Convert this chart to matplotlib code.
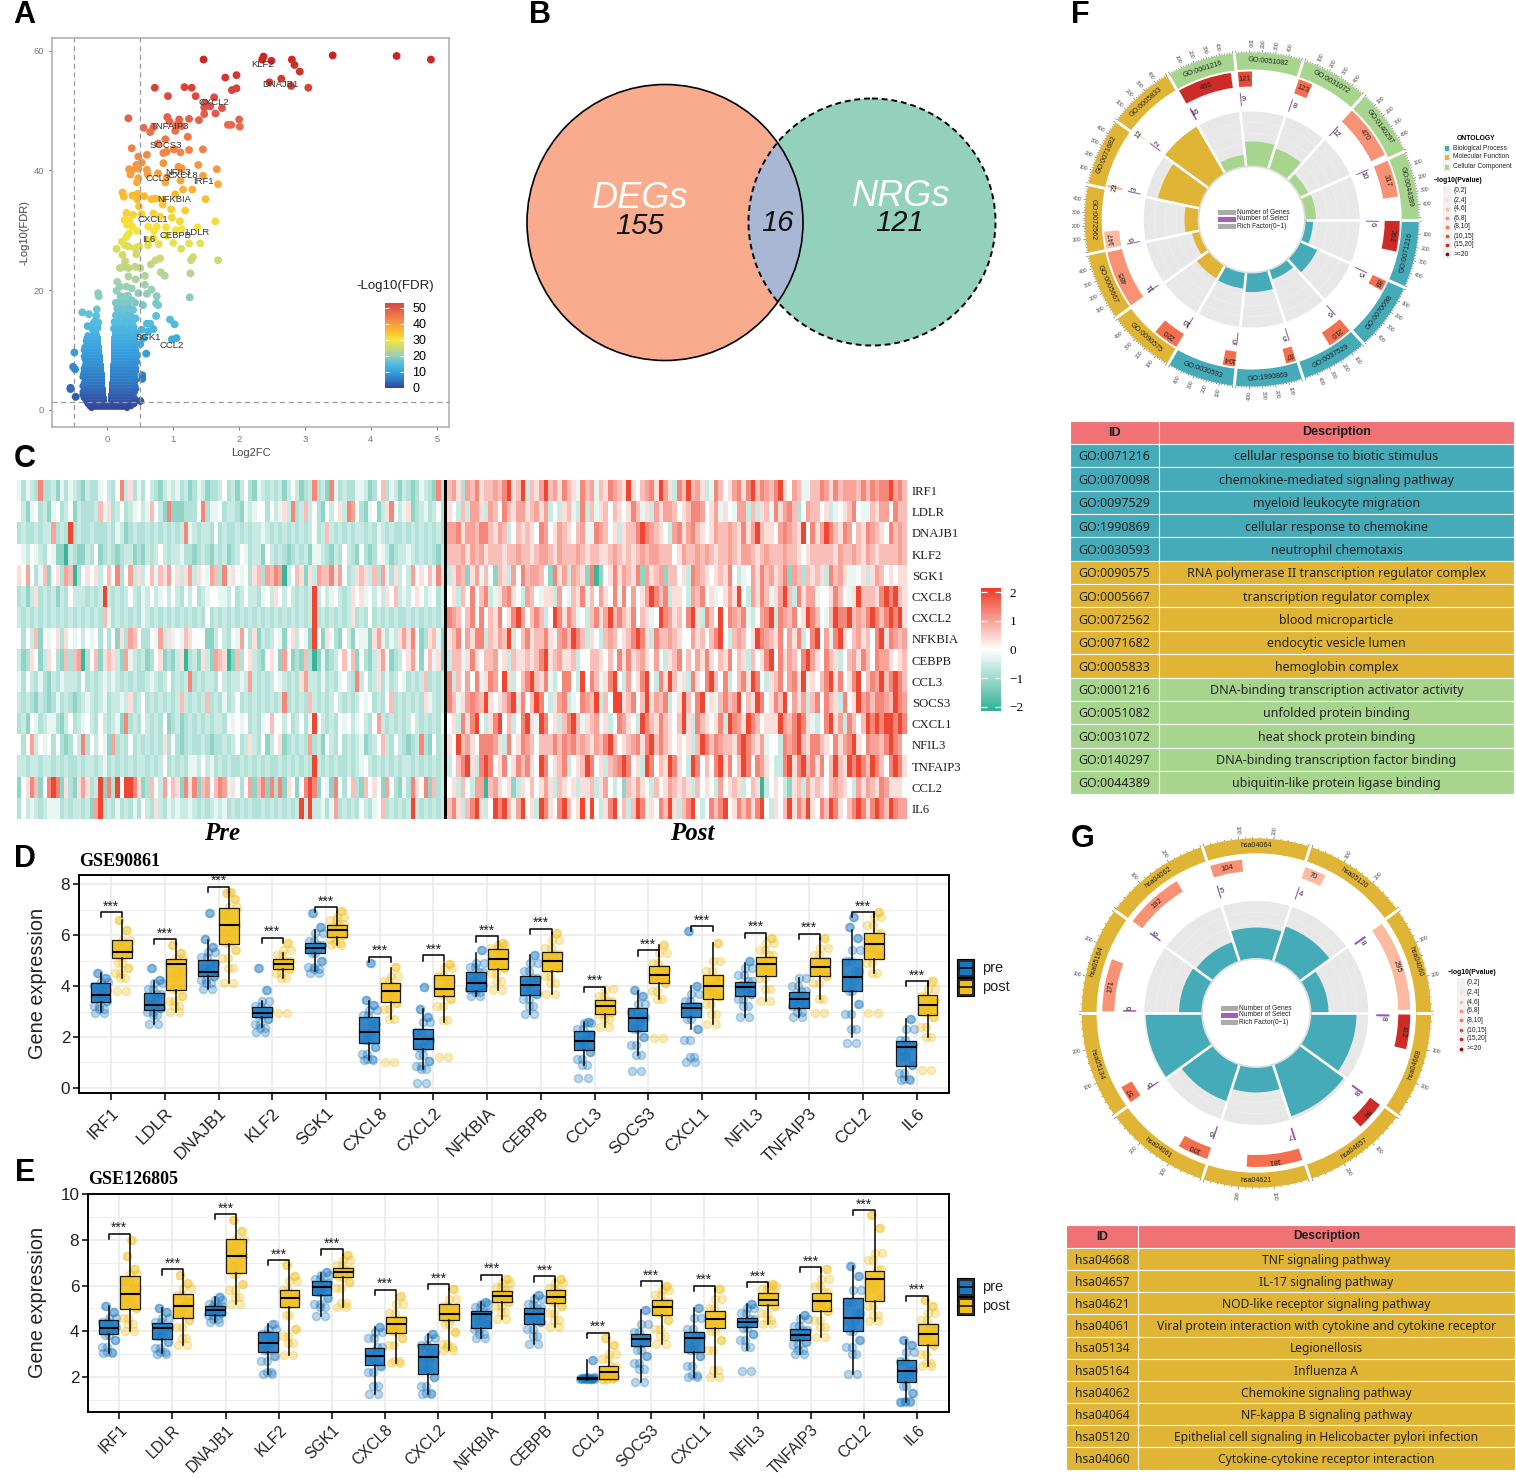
import numpy as np
import matplotlib
matplotlib.use("Agg")
from matplotlib import pyplot as plt
from matplotlib.cm import ScalarMappable
from matplotlib.collections import LineCollection
from matplotlib.colors import LinearSegmentedColormap, Normalize
from matplotlib.patches import Circle, Rectangle, Wedge

W, H = 1516, 1478
plt.rcParams["font.family"] = ["Liberation Sans", "DejaVu Sans"]

GENES = ["IRF1", "LDLR", "DNAJB1", "KLF2", "SGK1", "CXCL8", "CXCL2", "NFKBIA",
         "CEBPB", "CCL3", "SOCS3", "CXCL1", "NFIL3", "TNFAIP3", "CCL2", "IL6"]

# panel A
VOLCANO_X = [1.46, 2.37, 2.35, 2.49, 2.80, 2.84, 2.92, 3.42, 4.39, 4.91, 1.79, 1.96, 2.64, 2.46, 2.79, 3.05, .72, 1.17,
             1.28, 1.89, 1.96, .92, 1.34, 1.62, 1.47, 1.56, 1.74, 1.47, 1.64, 1.48, .32, .91, .94, 1.09, 1.24, 1.39, 2.0,
             1.83, 1.88, 2.01, .55, .70, .65, 1.03, 1.05, 1.13, 1.22, .88, .77, .37, .90, .85, 1.01, 1.11, 1.24, 1.45,
             .47, .60, .52, .44, .85, 1.38, 1.08, 1.13, 1.66, .33, .37, .35, .47, .60, .61, .77, .47, .45, .90, .88, 1.11,
             1.45, 1.68, .23, .25, .38, .46, .45, .56, .67, .73, .84, 1.03, 1.15, 1.29, 1.49, .84, .48, .97, 1.18, .29,
             .39, .52, .70, .80, .26, .33, .30, .38, .98, 1.10, 1.64, .62, .75, .89, 1.37, .45, .33, .71, 1.04, 1.13, .29,
             .22, .27, .32, .14, .42, .48, .62, .70, .78, .62, .90, 1.0, 1.12, 1.24, 1.41, .44, .23, .27, .19, .24, .32,
             .50, .42, .73, .80, .66, 1.3, 1.27, 1.68, .81, .87, 1.26, .57, .32, .43, -.14, -.13, .15, .19, .14, .29, .37,
             .57, .67, .47, .60, .75, 1.25, .27, .13, .27, .42, .54, .74, .77, -.16, -.38, -.28, -.17, .74, .95, 1.02, .65,
             .6, -.2, -.30, .70, .62, .52, .98, 1.05, .55, .5, .59, -.5, -.52, -.49, .53, .53, -.56, -.56, -.48, .5, .4,
             .1, .14, .18, .22, .27, .31, .36, .4, .11, .15, .2, .24, .29, .33, .38, .13, .17, .21, .26, .3, .35, .43,
             .15, .19, .23, .28, .34, .39, .18, .22, .25, .32, .37, .2, .26, .31, -.15, -.19, -.23, -.14, -.18, -.21]
VOLCANO_Y = [58.5, 59, 58.5, 58.3, 58.5, 57.6, 56.5, 59.2, 59.1, 58.5, 55.5, 55.9, 55.3, 54.7, 54.1, 53.8, 53.8, 53.9,
             53.8, 53.4, 53.7, 52.4, 52.4, 52.2, 50.5, 50.7, 50.4, 49.4, 49.5, 51.3, 48.7, 48.9, 48.2, 48.5, 48.6, 48.4, 48.5,
             47.6, 47.6, 47.3, 47.1, 47.2, 46.4, 46.6, 47.6, 47.4, 45.6, 45.2, 44.5, 43.7, 43.1, 42.9, 43.5, 43, 43.4, 43.5,
             42.3, 42.6, 41.3, 40.9, 41.2, 40.9, 40.6, 40.3, 40.2, 40.2, 40, 39.3, 40.3, 40.1, 39.4, 39.5, 38.7, 38, 38.8, 38, 38.3,
             39.1, 37.7, 36.3, 35.6, 35.8, 36.1, 35.2, 35.7, 35.2, 35.3, 35.1, 36, 36.8, 36.8, 35.2, 34.3, 34, 33.5, 33.3, 32.9,
             32.6, 32.7, 32.8, 32.3, 31.7, 31.6, 30.9, 30.6, 32.1, 31.5, 31.5, 30.6, 30.6, 30.5, 30.5, 29.9, 29.5, 29.9, 30, 30.2, 28.9,
             28.1, 27.5, 27.3, 26.9, 27, 27.3, 28.4, 28.7, 27.7, 27.5, 29.1, 27.9, 26.9, 27.8, 27.8, 26, 25.9, 24.8, 23.7, 23.9, 23.7,
             23.7, 23.9, 25, 25.3, 24.3, 25.5, 25, 25, 23, 22.4, 22.8, 22.4, 22.3, 21.8, 19.5, 19.0, 21.4, 20.6, 19.9, 20.6, 20.3,
             20.9, 20.1, 19.5, 19.4, 19, 18.8, 18.9, 17.9, 17.8, 17.9, 17.5, 17.8, 17.5, 16.8, 16.3, 16, 15.7, 15.7, 15.1, 14.3, 14.4,
             14.4, 14.6, 14, 13.5, 13.1, 13.4, 11.8, 12, 12, 11, 9.4, 9.6, 7.2, 6.8, 5.8, 5.2, 3.7, 3.5, 2.2, 1.5, 1.1,
             13.6, 13.9, 13.5, 14, 13.7, 14.1, 13.5, 13.8, 14.7, 15, 14.8, 15.2, 14.6, 15.1, 14.7, 15.8, 16.1, 15.7, 16.2, 15.9, 15.7, 15.3,
             16.9, 17.1, 16.8, 17.2, 16.9, 16.7, 18, 18.2, 17.9, 18, 18.3, 19, 18.8, 19.1, 13.7, 13.9, 13.6, 14.6, 14.8, 14.4]
# dense part of the cloud: fdr level, then outer and inner edge on each side
BLOB_LEVEL = [.3, .6, 1, 1.5, 2, 2.5, 3, 3.5, 4, 4.5, 5, 5.5, 6, 6.5, 7, 7.5, 8, 8.5, 9, 9.5, 10, 10.5, 11, 11.5, 12, 12.5, 13]
BLOB_LEFT_OUT = [-.24, -.27, -.3, -.33, -.36, -.38, -.38, -.36, -.38, -.36, -.34, -.38, -.37, -.36, -.36, -.34, -.33, -.35, -.36, -.34, -.36, -.35, -.32, -.33, -.32, -.3, -.22]
BLOB_LEFT_IN = [0, 0, 0, -.005, -.012, -.016, -.02, -.025, -.03, -.03, -.035, -.04, -.04, -.045, -.05, -.055, -.06, -.065, -.07, -.075, -.08, -.085, -.09, -.095, -.1, -.11, -.12]
BLOB_RIGHT_IN = [0, 0, 0, .005, .012, .016, .02, .025, .03, .03, .035, .038, .04, .04, .04, .045, .05, .05, .05, .05, .05, .055, .06, .06, .06, .065, .07]
BLOB_RIGHT_OUT = [.3, .36, .4, .42, .42, .4, .42, .44, .43, .42, .44, .42, .42, .44, .44, .42, .46, .44, .46, .45, .44, .42, .43, .42, .42, .44, .46]
VOLCANO_LABEL = ["KLF2", "DNAJB1", "CXCL2", "TNFAIP3", "SOCS3", "NFIL3", "CXCL8", "CCL3", "IRF1", "NFKBIA", "CXCL1", "LDLR", "CEBPB", "IL6", "SGK1", "CCL2"]
LABEL_X = [2.35, 2.63, 1.61, .95, .89, 1.08, 1.14, .77, 1.45, 1.02, .69, 1.37, 1.04, .62, .62, .97]
LABEL_Y = [57.6, 54.3, 51.4, 47.3, 44.2, 39.7, 39.2, 38.7, 38.2, 35.1, 31.8, 29.6, 29.2, 28.4, 12.1, 10.8]

# panel B
VENN_COUNTS = ["155", "16", "121"]
VENN_NAMES = ["DEGs", "NRGs"]

# panel C, one letter per sample: a = -2 ... f = 0 ... k = +2
HEAT_LEVELS = dict(zip("abcdefghijk", [-2, -1.15, -.8, -.55, -.25, 0, .35, .7, 1.0, 1.3, 2]))
HEAT_PRE = [
    "ecedcjccdb ecedcbdcce fdcfjdgcec fdcbdedecd bcedbccdfc dbdfcbedcd cdbdfdbcdj cdbjecdcce edbcfhcedb dcbcedcbjc",
    "fdbefcdbef cdfbdcccdh egcdfcdefd ehfdbjbbbc ccfjceefcd dcbedeffcf degdjcdhdf cbfdfgdjif cbefbdgjfd egbcdecdfc",
    "cdccdcddic dckcdccdcc cdcedbcdcc dcdcdcdcdj edcddcfcdc cdcdcddedc dcdcdcdcdf cdhdcdcdcd dcdcedcdcc dcdcdcdcdc",
    "fedfedcfeb badcbbdcfb cdcbcddbcb dcdfdcddec cbcdcbdcdb cdfecddbfd cdcbcdcdbe edcbdcfdcb fcbcfedbcd dedcdcdcbd",
    "gfifcehbfg cihacfgfgd fhfjcfidgd fhehgifgdg idgfeihcje gfefcghcih jiadfhgbgd ihhjgifcdg hgdhciecgd fdifgfhejg",
    "cdbdgcdcdb dcfdddcdcd kdcdcdfdce dfdefdfdcf dfcdeffeed fcdfddcefd gfdfdcdcdk dfdefdcdgf gefdfdgfhd edfgfdefcd",
    "dcdcdcdcdc dcdcdcdcdc hecdcdcdce dcdcdcdcdc dcdcfcdcdc dcdcdcdcdc dcdcdcdcdk cdcdcdcdgc dcfcdcdcdc cdcdcdcdcd",
    "fcfdhbfefg cgfefdfefc fcfbgcihfc cfeidgefeh gfffbbdfdc feifcgbdcd febfgdfebk fbgfcbfdbf eebgiecedg igjfbcgheb",
    "dbcgfbdgfc bhchiacfhb ghgdbiedcd bcfgbcbdga cdbgdbihga bhcfgdcbfg fbifbcbhca bebcdfhfhb fcbdgifbcd fgifbfhegb",
    "ecfdcecbdc edddcfcdcd ededcdcdcc dedcdfcdcd jcdcddcfdc ddedidcdcd fedcdcgidd cecdcefdcj dfcdgcecdf ecdcdhcdcd",
    "dcdcbdcbce cdcbcdedcd ecddedgcdf cdcdcdcdhd cdcdhcdcec dfcdcdcdcd cdjcdcdchd cdcdfdcdcd fefcdcfhcd cdcdcgedcd",
    "cdbfecdeec bdfcdefdcf dcdebjcdcf dcdcfbcdbc dcdcdcddcf efefcdcefh ffdfcdfcek fdcdcfefde fdcfidcdcd cdfdcdcdce",
    "fcfidfefcf cbcfdjcfdf ebicdcfcdc dcdcgcfcbc dccdcbccdc dfcdgdcfbd fgbcdcdcic dbfdcfcdcd ebcdfhdcfd cbcdjcbfcd",
    "ddcddcddcd cdccdcddcd ecdcdcdcdd cdcdfcdcdc eedfdecdcd ccdcdcdcdc cdcdcdcdck dcdcdccdcd efdcdcdcdc ddcdcdcdcd",
    "bfgjhbfjkj bgcbgigcdk bjckfkkjgb chfdifhgbj gjbhifhjie gfcfibhjbj cjbgfbfjkj bfebjfcfhc bhfgfbifcb ecjgfjbhcd",
    "cfdedcdeee cdcddcdbik cdcecdcecf dcgdcededd edcdcdedec dcdcdccdcd cdcdcdkdkd deceicdcdc fdcefhcdcd cdkdcdcdcd",
]
HEAT_POST = [
    "higcihjghh ihjkghkdhg ikhigjhgej hiehgjihgk gfhijgkigd jhkhigdejh fgijgjkhji hjkgfiheeh hjigjhiiih jhjijjkijh",
    "gfdhdiigdi hfjhgiighi gidfdghedj dheghfhgfg jhegdigiih fghjjifgie gfeiidhdgh ejgijhcfih hfgdefghjf eehgiifjhh",
    "iijgiihjjh gihdfhghgf jifgihgfhi eejihfgdgh hjkjihgfdi jgijhgfgih hihgjgikhg gfijihgkfj gikjhgjifh gjihgfjhih",
    "hhhigihigh hhghhihhgh iihgihhhih ghhgghihgh ghihiihhhf gihhihihgh hihgiihghi hhhihhgfgh hhhhgihhih gihghhhhih",
    "dgihbgiehf bhgdifjhii hfbjgidihg bjabfgjgih gjbighibhh fgdjihgfgh gjfdefigjh ighjbihchg hgdjhigeef gdgihfgfgg",
    "fgdhfjfhjd egijgfdihf eggdifehgj ehfigfjejf ifgikjhjdg gfdihjfgef gigkfdigjh egikhdjgii effgjhfegk hhhgjkjkhg",
    "jihfhjfjfh gjfgjkifhj hdfkjgjhef dhjgikhjhg jfhgefkjig hfjkgdjhfk fjihjedfij kdjihjfgkj hfehkjjkhi hjkjhjkjkg",
    "ghjfigjjdh gihkdfhjgh hjgeijhkjh dgfdhihfgh jkjgdjhhih gffighfhjk fdhihfgkji hgjfigjdfj kfiejkgfhi ghfjkgjihi",
    "dhhegjgfhh ifgdhgghgh jkghigghdf fhhgfhfjgj ghigfifdgh jfhfigjgfh gjfhgdhfgj kfjgihfjki gfjhgdfhig jhfjiigfgh",
    "jdhfifjegj ifkgdfhjkh gjedfjjfdk fjhegjkfdi fgjkfdjgkh egdjgfjkhf jdfhjgkjfd ghjfijgkeg fhjkgjfgjk fhjikhjkjh",
    "jhegijihkg fghjkgjfhk jfdgijdefj ihkdhfkkgh jfhkgihjdf gkhfjkfgeh jhikfhgkjf gjhkfigidh jfjhgdjfgk ijhjjihkji",
    "fgdjgjkfdg jkfhdfjkge kjfgdhjkhe ghifgdfjig fdkjhgjhgf hkgdjhgfgj dkjigkjhfg ggkihjkjge dfjkgidjhf hkjkjkkjkj",
    "gfkhigfjjj igdjfgjihf hhhjhjijhi hgihjkhfgh ijgjkhjhgf gfgdhkjhji hhgjkjhgie ffdjijkhgj jhgfjgijkg fjiihjkjif",
    "dfhjkgdjkj fgjfgjhjgf kjfghjdfgh kjfgdhijkj fgdkjfhgkj gfdkjfhfjk gjfhkjfjig fddjkgjkhj gjfhkhgkjk jhkjhfjkjg",
    "fgdhfdiiah igfgbdgfhf gigdhgfgdg ghdgifdfbh gigfdhfgih ghgdhfgfdi fghgdfhgad fgfdbghdig hgfhihgfdi gihgjigggf",
    "hjgdhjkgdf kjkheikfgd kjgfjkhfgk ekfdgjkfhd hkjegfjhkg dhjkfdfjhj kfgjhjgjkf dgfhkgjhkg fjhkjgfhjk jgjkjhkjii",
]

# panels D and E, box stats are q1, median, q3, low whisker, high whisker
D_PRE_Q1 = [3.37, 3.07, 4.38, 2.79, 5.31, 1.76, 1.54, 3.82, 3.65, 1.5, 2.25, 2.8, 3.6, 3.15, 3.8, .85]
D_PRE_MED = [3.63, 3.27, 4.55, 2.95, 5.5, 2.2, 1.91, 4.12, 4.05, 1.85, 2.75, 3.15, 3.95, 3.5, 4.35, 1.6]
D_PRE_Q3 = [4.1, 3.72, 5.03, 3.18, 5.69, 2.78, 2.33, 4.55, 4.4, 2.25, 3.15, 3.35, 4.15, 3.75, 5.05, 1.85]
D_PRE_LO = [3.0, 2.5, 3.9, 2.4, 4.6, 1.1, .75, 3.6, 2.9, .9, 1.3, 2.3, 2.8, 2.8, 2.0, .3]
D_PRE_HI = [4.5, 4.2, 5.8, 3.4, 6.2, 3.4, 3.1, 5.3, 5.2, 2.6, 3.8, 4.0, 4.9, 4.3, 6.2, 2.7]
D_POST_Q1 = [5.1, 3.83, 5.66, 4.68, 5.94, 3.37, 3.62, 4.66, 4.6, 2.9, 4.1, 3.5, 4.4, 4.4, 5.05, 2.85]
D_POST_MED = [5.35, 4.87, 6.4, 4.85, 6.2, 3.8, 3.88, 5.05, 5.0, 3.2, 4.45, 4.0, 4.85, 4.75, 5.65, 3.25]
D_POST_Q3 = [5.82, 5.08, 7.06, 5.07, 6.41, 4.13, 4.44, 5.46, 5.35, 3.45, 4.8, 4.45, 5.15, 5.1, 6.1, 3.65]
D_POST_LO = [4.3, 3.0, 4.1, 4.3, 5.6, 2.7, 2.6, 3.85, 3.7, 2.4, 3.5, 2.5, 3.4, 3.5, 4.5, 2.0]
D_POST_HI = [6.6, 5.7, 7.7, 5.3, 6.9, 4.7, 4.9, 5.7, 6.1, 3.9, 5.6, 5.7, 5.9, 5.9, 6.9, 4.2]
D_SIG = [6.9, 5.85, 7.9, 5.9, 7.1, 5.15, 5.2, 5.95, 6.25, 3.98, 5.4, 6.35, 6.1, 6.05, 6.9, 4.2]
D_PRE_PTS = [[2.95, 3.1, 3.2, 3.4, 3.55, 3.7, 3.85, 4.0, 4.15, 4.3, 4.5],
             [2.5, 2.85, 3.0, 3.15, 3.3, 3.5, 3.7, 3.9, 4.1, 4.25, 4.7],
             [3.9, 4.1, 4.25, 4.4, 4.55, 4.7, 4.9, 5.15, 5.35, 5.55, 5.85, 6.85],
             [2.2, 2.35, 2.5, 2.7, 2.85, 2.95, 3.05, 3.2, 3.4, 3.85, 4.7],
             [4.5, 4.65, 4.75, 5.0, 5.3, 5.45, 5.6, 5.75, 6.1, 6.3, 6.85],
             [1.1, 1.15, 1.35, 1.6, 1.9, 2.2, 2.5, 2.85, 3.05, 3.25, 3.45, 4.9],
             [.2, .75, .85, 1.05, 1.3, 1.6, 1.9, 2.2, 2.6, 2.8, 3.1, 3.95],
             [3.6, 3.75, 3.9, 4.05, 4.2, 4.35, 4.55, 4.75, 4.9, 5.4],
             [2.9, 3.2, 3.5, 3.7, 3.9, 4.1, 4.3, 4.6, 4.9, 5.2],
             [.4, .9, 1.15, 1.4, 1.7, 1.9, 2.1, 2.3, 2.55, 2.6],
             [.65, 1.3, 1.7, 2.0, 2.3, 2.6, 2.8, 3.0, 3.3, 3.6, 3.85],
             [1.0, 1.2, 1.9, 2.3, 2.7, 3.0, 3.2, 3.4, 3.7, 4.0, 6.15],
             [2.8, 3.2, 3.5, 3.7, 3.9, 4.05, 4.2, 4.45, 4.7, 5.0],
             [2.8, 3.0, 3.2, 3.35, 3.5, 3.65, 3.8, 4.0, 4.3],
             [1.75, 2.3, 2.9, 3.3, 3.8, 4.2, 4.6, 5.0, 5.4, 5.9, 6.3, 6.7],
             [.3, .35, .6, .9, 1.2, 1.5, 1.7, 1.9, 2.3, 2.7]]
D_POST_PTS = [[3.8, 4.3, 4.5, 4.7, 4.9, 5.2, 5.4, 5.6, 5.8, 6.2, 6.6],
              [3.0, 3.2, 3.4, 3.6, 3.9, 4.3, 4.6, 4.9, 5.1, 5.3, 5.6],
              [4.1, 4.7, 5.1, 5.4, 5.7, 6.1, 6.4, 6.8, 7.1, 7.4, 7.65, 7.7],
              [2.95, 4.3, 4.5, 4.65, 4.8, 4.9, 5.0, 5.2, 5.4, 5.7],
              [5.6, 5.7, 5.85, 6.0, 6.15, 6.3, 6.45, 6.6, 6.7, 6.95],
              [1.0, 2.7, 3.1, 3.35, 3.6, 3.8, 4.0, 4.2, 4.4, 4.75],
              [1.2, 2.65, 3.2, 3.5, 3.7, 3.9, 4.2, 4.4, 4.7, 4.85],
              [3.85, 4.2, 4.5, 4.7, 4.9, 5.1, 5.3, 5.5, 5.6, 5.7],
              [3.7, 4.1, 4.4, 4.7, 4.9, 5.05, 5.25, 5.5, 5.8, 6.1],
              [2.4, 2.7, 2.9, 3.0, 3.15, 3.25, 3.4, 3.6, 3.9],
              [1.95, 3.5, 3.8, 4.1, 4.3, 4.45, 4.65, 4.9, 5.3, 5.6],
              [2.5, 2.9, 3.3, 3.6, 3.8, 4.0, 4.3, 4.6, 5.0, 5.7],
              [3.4, 3.9, 4.3, 4.6, 4.8, 5.0, 5.2, 5.4, 5.7, 5.9],
              [2.95, 3.5, 4.1, 4.4, 4.6, 4.8, 5.0, 5.2, 5.5, 5.9],
              [2.95, 4.5, 4.9, 5.2, 5.5, 5.8, 6.1, 6.4, 6.7, 6.9],
              [.7, 2.0, 2.4, 2.8, 3.0, 3.2, 3.4, 3.6, 3.9, 4.2]]

E_PRE_Q1 = [3.87, 3.66, 4.69, 3.11, 5.6, 2.51, 2.13, 4.16, 4.3, 1.9, 3.36, 3.08, 4.18, 3.6, 4.02, 1.77]
E_PRE_MED = [4.13, 4.13, 4.93, 3.5, 5.94, 2.9, 2.89, 4.75, 4.76, 1.95, 3.65, 3.72, 4.4, 3.84, 4.58, 2.25]
E_PRE_Q3 = [4.48, 4.36, 5.1, 3.96, 6.2, 3.27, 3.46, 4.9, 5.0, 2.0, 3.87, 3.98, 4.58, 4.1, 5.46, 2.75]
E_PRE_LO = [3.05, 3.05, 4.4, 2.15, 4.65, 1.25, 1.25, 3.7, 3.45, 1.85, 1.8, 2.0, 3.2, 3.0, 2.15, .9]
E_PRE_HI = [5.1, 5.0, 5.5, 4.3, 6.55, 4.2, 3.9, 5.3, 5.6, 2.75, 4.95, 5.0, 5.2, 4.7, 6.85, 3.6]
E_POST_Q1 = [4.98, 4.6, 6.55, 5.08, 6.35, 3.94, 4.5, 5.29, 5.23, 1.9, 4.69, 4.15, 5.14, 4.9, 5.34, 3.4]
E_POST_MED = [5.62, 5.12, 7.27, 5.45, 6.57, 4.3, 4.76, 5.56, 5.5, 2.2, 5.07, 4.55, 5.37, 5.33, 6.28, 3.87]
E_POST_Q3 = [6.4, 5.62, 8.05, 5.8, 6.76, 4.61, 5.18, 5.75, 5.8, 2.5, 5.35, 4.87, 5.67, 5.67, 6.65, 4.3]
E_POST_LO = [4.0, 3.4, 5.2, 2.95, 5.05, 2.6, 3.2, 4.55, 4.2, 1.9, 3.45, 2.0, 4.3, 3.75, 4.45, 2.5]
E_POST_HI = [8.0, 6.45, 8.85, 6.9, 7.35, 5.55, 5.85, 6.3, 6.3, 3.7, 6.0, 5.85, 6.05, 6.7, 9.1, 5.35]
E_SIG = [8.27, 6.7, 9.12, 7.12, 7.58, 5.82, 6.07, 6.47, 6.4, 3.94, 6.2, 6.0, 6.16, 6.8, 9.3, 5.55]
E_PRE_PTS = [[3.05, 3.1, 3.3, 3.6, 3.85, 4.05, 4.2, 4.4, 4.6, 4.85, 5.1],
             [3.0, 3.1, 3.25, 3.55, 3.8, 4.0, 4.2, 4.4, 4.6, 4.85, 5.0],
             [4.4, 4.55, 4.7, 4.8, 4.9, 5.0, 5.1, 5.2, 5.35, 5.5],
             [2.15, 2.2, 2.7, 2.9, 3.2, 3.5, 3.7, 3.9, 4.1, 4.3],
             [4.65, 5.05, 5.2, 5.45, 5.7, 5.9, 6.1, 6.3, 6.45, 6.6],
             [1.25, 1.6, 2.2, 2.5, 2.8, 3.0, 3.3, 3.7, 3.95, 4.2],
             [1.25, 1.3, 1.6, 2.0, 2.4, 2.8, 3.1, 3.4, 3.7, 3.9],
             [3.7, 3.9, 4.1, 4.3, 4.5, 4.7, 4.85, 5.05, 5.2, 5.3],
             [3.45, 3.8, 4.1, 4.4, 4.6, 4.8, 5.0, 5.2, 5.4, 5.6],
             [1.9, 1.9, 1.9, 1.95, 1.95, 1.95, 1.9, 1.95, 2.0, 2.75],
             [1.8, 2.35, 2.6, 2.9, 3.2, 3.5, 3.7, 3.95, 4.3, 4.95],
             [2.0, 2.1, 2.5, 2.9, 3.2, 3.5, 3.8, 4.1, 4.6, 5.0],
             [2.25, 3.3, 3.6, 3.9, 4.15, 4.35, 4.55, 4.8, 5.0, 5.2],
             [3.0, 3.2, 3.4, 3.55, 3.75, 3.9, 4.05, 4.25, 4.55, 4.7],
             [2.15, 3.0, 3.3, 3.6, 4.0, 4.4, 4.8, 5.3, 5.8, 6.4, 6.85],
             [.9, .95, .9, 1.3, 1.6, 2.0, 2.3, 2.7, 3.1, 3.4, 3.6]]
E_POST_PTS = [[4.0, 4.3, 4.6, 5.0, 5.3, 5.6, 5.9, 6.2, 6.5, 6.7, 7.3, 8.0],
              [3.4, 3.7, 4.2, 4.5, 4.8, 5.1, 5.3, 5.6, 5.9, 6.1, 6.45],
              [5.2, 5.5, 5.8, 6.05, 6.5, 6.9, 7.3, 7.7, 8.05, 8.4, 8.85],
              [2.95, 3.5, 3.8, 4.1, 4.7, 5.2, 5.5, 5.8, 6.2, 6.4, 6.9],
              [5.05, 5.25, 5.9, 6.15, 6.35, 6.55, 6.7, 6.9, 7.1, 7.35],
              [2.6, 2.7, 3.4, 3.7, 4.0, 4.3, 4.5, 4.8, 5.2, 5.55],
              [3.2, 3.3, 3.45, 3.95, 4.3, 4.6, 4.8, 5.1, 5.4, 5.85],
              [4.55, 4.85, 5.1, 5.3, 5.5, 5.65, 5.8, 5.95, 6.1, 6.3],
              [4.2, 4.5, 4.8, 5.1, 5.3, 5.5, 5.7, 5.9, 6.1, 6.3],
              [1.9, 1.95, 1.9, 2.0, 2.1, 2.3, 2.5, 2.8, 3.0, 3.4, 3.7],
              [3.45, 3.8, 4.1, 4.5, 4.8, 5.1, 5.3, 5.6, 5.8, 6.0],
              [2.0, 2.3, 3.2, 3.6, 4.0, 4.4, 4.7, 5.0, 5.4, 5.85],
              [4.3, 4.5, 4.8, 5.1, 5.3, 5.5, 5.7, 5.85, 6.0, 6.05],
              [3.75, 4.2, 4.5, 4.9, 5.2, 5.4, 5.7, 6.0, 6.3, 6.7],
              [4.45, 4.7, 5.1, 5.5, 5.9, 6.3, 6.7, 7.1, 7.4, 8.5, 9.1],
              [2.5, 2.6, 3.0, 3.4, 3.7, 3.9, 4.2, 4.5, 4.8, 5.1, 5.35]]

# panel F
GO_IDS = ["GO:0071216", "GO:0070098", "GO:0097529", "GO:1990869", "GO:0030593",
          "GO:0090575", "GO:0005667", "GO:0072562", "GO:0071682", "GO:0005833",
          "GO:0001216", "GO:0051082", "GO:0031072", "GO:0140297", "GO:0044389"]
GO_DESC = ["cellular response to biotic stimulus", "chemokine-mediated signaling pathway", "myeloid leukocyte migration",
           "cellular response to chemokine", "neutrophil chemotaxis", "RNA polymerase II transcription regulator complex",
           "transcription regulator complex", "blood microparticle", "endocytic vesicle lumen", "hemoglobin complex",
           "DNA-binding transcription activator activity", "unfolded protein binding", "heat shock protein binding",
           "DNA-binding transcription factor binding", "ubiquitin-like protein ligase binding"]
GO_GENES = [262, 89, 210, 87, 104, 220, 495, 147, 23, 12, 466, 121, 123, 470, 317]
GO_SELECT = [6, 5, 6, 5, 5, 10, 11, 6, 3, 2, 16, 9, 8, 12, 10]
GO_PBIN = [6, 4, 4, 4, 4, 4, 3, 2, 2, 1, 6, 5, 4, 3, 3]
GO_GROUP = [0, 0, 0, 0, 0, 1, 1, 1, 1, 1, 2, 2, 2, 2, 2]

# panel G
KEGG_IDS = ["hsa04668", "hsa04657", "hsa04621", "hsa04061", "hsa05134",
            "hsa05164", "hsa04062", "hsa04064", "hsa05120", "hsa04060"]
KEGG_DESC = ["TNF signaling pathway", "IL-17 signaling pathway", "NOD-like receptor signaling pathway",
             "Viral protein interaction with cytokine and cytokine receptor", "Legionellosis", "Influenza A",
             "Chemokine signaling pathway", "NF-kappa B signaling pathway",
             "Epithelial cell signaling in Helicobacter pylori infection", "Cytokine-cytokine receptor interaction"]
KEGG_GENES = [112, 94, 181, 100, 57, 171, 192, 104, 70, 295]
KEGG_SELECT = [8, 8, 7, 6, 5, 6, 6, 5, 4, 8]
KEGG_PBIN = [6, 6, 4, 4, 4, 3, 3, 3, 2, 2]

P_LABELS = ["(0,2]", "(2,4]", "(4,6]", "(6,8]", "(8,10]", "(10,15]", "(15,20]", ">=20"]
P_COLORS = ["#F0F0F0", "#FEE0D2", "#FCBBA1", "#F79274", "#F56F4E", "#EA4A33", "#CE2B26", "#99000D"]
ONTOLOGY = ["Biological Process", "Molecular Function", "Cellular Component"]
TEAL, GOLD, GREEN = "#46ABB9", "#E0B535", "#A8D58E"
GROUP_COLORS = [TEAL, GOLD, GREEN]
BLUE_BOX, YEL_BOX = "#1A78C2", "#F2BE1A"
JITTER = [-.1, .06, -.03, .11, -.07, .03, .13, -.12, 0, .08, -.05, .02, -.14]

fig = plt.figure(figsize=(W / 100, H / 100), dpi=100, facecolor="white")


def px_axes(x0, y0, x1, y1):
    return fig.add_axes([x0 / W, 1 - y1 / H, (x1 - x0) / W, (y1 - y0) / H])


bg = fig.add_axes([0, 0, 1, 1])
bg.set_xlim(0, W)
bg.set_ylim(H, 0)
bg.axis("off")

for letter, x, y in [("A", 24, 15), ("B", 540, 15), ("C", 25, 459), ("D", 25, 859),
                     ("E", 25, 1173), ("F", 1080, 15), ("G", 1083, 839)]:
    bg.text(x, y, letter, fontsize=22, fontweight="bold", ha="center", va="center", color="black")

# ---- A: volcano
fdr_cmap = LinearSegmentedColormap.from_list("fdr", [
    (0, "#35439F"), (5 / 60, "#2F7CC4"), (10 / 60, "#37A2DF"), (15 / 60, "#55BDE0"), (20 / 60, "#97CFB8"),
    (25 / 60, "#CDD874"), (30 / 60, "#F6E53A"), (35 / 60, "#FBC030"), (40 / 60, "#F99A3E"), (45 / 60, "#F2784A"),
    (50 / 60, "#E2574A"), (1, "#C5201F")])
fdr_norm = Normalize(0, 60)

ax = px_axes(52, 38, 449, 427)
levels = np.array(BLOB_LEVEL)
left = [[(a, y), (b, y)] for y, a, b in zip(levels, BLOB_LEFT_OUT, BLOB_LEFT_IN)]
right = [[(a, y), (b, y)] for y, a, b in zip(levels, BLOB_RIGHT_IN, BLOB_RIGHT_OUT)]
for segs in (left, right):
    ax.add_collection(LineCollection(segs, colors=fdr_cmap(fdr_norm(levels)), linewidths=2.6, capstyle="butt", zorder=2))
for edge in (BLOB_LEFT_OUT, BLOB_RIGHT_OUT):
    ax.scatter(edge, levels, c=levels, cmap=fdr_cmap, norm=fdr_norm, s=18, linewidths=0, zorder=2)
ax.scatter(VOLCANO_X, VOLCANO_Y, c=VOLCANO_Y, cmap=fdr_cmap, norm=fdr_norm, s=32, linewidths=0, zorder=2)
ax.axvline(-.5, color="#999999", ls=(0, (4, 3)), lw=.9, zorder=1)
ax.axvline(.5, color="#999999", ls=(0, (4, 3)), lw=.9, zorder=3)
ax.axhline(1.3, color="#999999", ls=(0, (4, 3)), lw=.9, zorder=3)
for name, x, y in zip(VOLCANO_LABEL, LABEL_X, LABEL_Y):
    ax.text(x, y, name, fontsize=6.8, ha="center", va="center", color="#333333", zorder=4)
ax.set_xlim(-.84, 5.185)
ax.set_ylim(-2.84, 62.1)
ax.set_xticks(range(6))
ax.set_yticks([0, 20, 40, 60])
ax.tick_params(labelsize=6.8, colors="#777777", length=2, width=.7)
ax.set_xlabel("Log2FC", fontsize=8, color="#444444", labelpad=3)
ax.set_ylabel("-Log10(FDR)", fontsize=8, color="#444444", labelpad=3)
for s in ax.spines.values():
    s.set_color("#AAAAAA")
    s.set_linewidth(1.1)

cax = px_axes(385, 303, 404, 387.7)
cb = fig.colorbar(ScalarMappable(fdr_norm, fdr_cmap), cax=cax)
cax.set_ylim(0, 53)
cb.set_ticks([0, 10, 20, 30, 40, 50])
cb.outline.set_visible(False)
cax.tick_params(labelsize=9, length=3, color="white", direction="in", left=True, right=True, width=.7, pad=6)
bg.text(395, 286, "-Log10(FDR)", fontsize=9.5, ha="center", va="center", color="#222222")

# ---- B: venn
venn = px_axes(520, 75, 1005, 370)
venn.set_xlim(520, 1005)
venn.set_ylim(370, 75)
venn.set_aspect("equal")
venn.axis("off")
deg = Circle((665, 222.5), 138, fc="#F9AB8D", ec="none", zorder=1)
nrg = Circle((872, 222), 123.5, fc="#93D1BC", ec="none", zorder=1)
both = Circle((872, 222), 123.5, fc="#A9B6D4", ec="none", zorder=2)
venn.add_patch(deg)
venn.add_patch(nrg)
venn.add_patch(both)
both.set_clip_path(deg)
venn.add_patch(Circle((665, 222.5), 138, fc="none", ec="black", lw=1.2, zorder=3))
venn.add_patch(Circle((872, 222), 123.5, fc="none", ec="black", lw=1.4, ls=(0, (3, 2)), zorder=3))
venn.text(640, 199, VENN_NAMES[0], color="white", fontsize=26, style="italic", ha="center", va="center", zorder=4)
venn.text(640, 226, VENN_COUNTS[0], color="#111111", fontsize=21, style="italic", ha="center", va="center", zorder=4)
venn.text(777, 223, VENN_COUNTS[1], color="#111111", fontsize=21, style="italic", ha="center", va="center", zorder=4)
venn.text(901, 197, VENN_NAMES[1], color="white", fontsize=26, style="italic", ha="center", va="center", zorder=4)
venn.text(900, 223, VENN_COUNTS[2], color="#111111", fontsize=21, style="italic", ha="center", va="center", zorder=4)

# ---- C: heatmap
heat_cmap = LinearSegmentedColormap.from_list("heat", ["#2FB094", "#FFFFFF", "#EE3A25"])
heat_norm = Normalize(-2.14, 2.14)


def heat_matrix(rows):
    rows = [r.replace(" ", "") for r in rows]
    width = max(len(r) for r in rows)
    return np.array([[HEAT_LEVELS[c] for c in r.ljust(width, r[-1])] for r in rows])


pre_ax = px_axes(17, 480, 444, 819)
pre_ax.imshow(heat_matrix(HEAT_PRE), cmap=heat_cmap, norm=heat_norm, aspect="auto", interpolation="nearest")
pre_ax.axis("off")
post_ax = px_axes(447, 480, 907, 819)
post_ax.imshow(heat_matrix(HEAT_POST), cmap=heat_cmap, norm=heat_norm, aspect="auto", interpolation="nearest")
post_ax.set_xticks([])
post_ax.yaxis.tick_right()
post_ax.set_yticks(range(16))
post_ax.set_yticklabels(GENES, fontsize=9.2, family="Liberation Serif", color="#222222")
post_ax.tick_params(length=0, pad=3.5)
for s in post_ax.spines.values():
    s.set_visible(False)
bg.add_patch(Rectangle((444, 480), 3, 339, fc="black", ec="none"))
bg.text(222, 834, "Pre", fontsize=18, family="Liberation Serif", fontweight="bold", style="italic", ha="center", va="center")
bg.text(692, 834, "Post", fontsize=18, family="Liberation Serif", fontweight="bold", style="italic", ha="center", va="center")

hax = px_axes(981, 588, 1001, 711)
hcb = fig.colorbar(ScalarMappable(heat_norm, heat_cmap), cax=hax)
hcb.set_ticks([-2, -1, 0, 1, 2])
hcb.set_ticklabels(["\u22122", "\u22121", "0", "1", "2"], family="Liberation Serif")
hcb.outline.set_visible(False)
hax.tick_params(labelsize=9.5, length=4, color="white", direction="in", left=True, right=True, width=.9, pad=6)


# ---- D, E: boxes
def draw_boxes(ax, pre_stats, post_stats, pre_pts, post_pts, sig, label_size, label_pad):
    pos = np.arange(16)
    for offset, stats, pts, fill in [(-.2, pre_stats, pre_pts, BLUE_BOX), (.2, post_stats, post_pts, YEL_BOX)]:
        xs, ys = [], []
        for p, vals in zip(pos, pts):
            for k, v in enumerate(vals):
                xs.append(p + offset + JITTER[k % len(JITTER)])
                ys.append(v)
                xs.append(p + offset - JITTER[(k + 4) % len(JITTER)])
                ys.append(v)
        ax.scatter(xs, ys, s=34, color=fill, alpha=.3, linewidths=1.1, edgecolors=fill, zorder=2)
        q1, med, q3, lo, hi = stats
        bxp_stats = [dict(q1=a, med=b, q3=c, whislo=d, whishi=e) for a, b, c, d, e in zip(q1, med, q3, lo, hi)]
        ax.bxp(bxp_stats, positions=pos + offset, widths=.37, patch_artist=True, showfliers=False, showcaps=False,
               boxprops=dict(facecolor=fill, edgecolor="black", linewidth=.9, alpha=.88),
               medianprops=dict(color="black", linewidth=1.5), whiskerprops=dict(color="black", linewidth=1.1),
               manage_ticks=False, zorder=3)
    drop = (ax.get_ylim()[1] - ax.get_ylim()[0]) * .024
    for p, y in zip(pos, sig):
        ax.plot([p - .2, p - .2, p + .2, p + .2], [y - drop, y, y, y - drop], color="black", lw=1.1, zorder=4)
        ax.annotate("***", (p, y), xytext=(0, 4), textcoords="offset points", fontsize=10, ha="center", va="center",
                    color="#222222", zorder=4)
    ax.set_xticks(pos)
    ax.set_xticklabels(GENES, rotation=45, ha="right", rotation_mode="anchor", fontsize=label_size, color="#222222")
    ax.tick_params(axis="x", length=5, width=1.1, pad=label_pad)
    ax.tick_params(axis="y", labelsize=12.3, length=4, width=1.1, pad=2, labelcolor="#222222")
    ax.set_axisbelow(True)
    ax.grid(True, which="major", color="#EDEDED", lw=1.4)
    ax.grid(True, which="minor", axis="y", color="#EDEDED", lw=.8)
    ax.tick_params(which="minor", length=0)
    for s in ax.spines.values():
        s.set_linewidth(1.4)


ax_d = px_axes(78.5, 875, 949, 1093)
ax_d.set_xlim(-.61, 15.6)
ax_d.set_ylim(-.2, 8.36)
ax_d.set_yticks([0, 2, 4, 6, 8])
ax_d.set_yticks([1, 3, 5, 7], minor=True)
draw_boxes(ax_d, (D_PRE_Q1, D_PRE_MED, D_PRE_Q3, D_PRE_LO, D_PRE_HI),
           (D_POST_Q1, D_POST_MED, D_POST_Q3, D_POST_LO, D_POST_HI), D_PRE_PTS, D_POST_PTS, D_SIG, 12.3, 4)

ax_e = px_axes(87.7, 1194, 949, 1412)
ax_e.set_xlim(-.594, 15.6)
ax_e.set_ylim(.47, 10)
ax_e.set_yticks([2, 4, 6, 8, 10])
ax_e.set_yticks([1, 3, 5, 7, 9], minor=True)
draw_boxes(ax_e, (E_PRE_Q1, E_PRE_MED, E_PRE_Q3, E_PRE_LO, E_PRE_HI),
           (E_POST_Q1, E_POST_MED, E_POST_Q3, E_POST_LO, E_POST_HI), E_PRE_PTS, E_POST_PTS, E_SIG, 11.2, 2.5)

bg.text(79, 862, "GSE90861", fontsize=13, family="Liberation Serif", fontweight="bold", va="center")
bg.text(88, 1180, "GSE126805", fontsize=13, family="Liberation Serif", fontweight="bold", va="center")
bg.text(38, 983, "Gene expression", fontsize=14.3, rotation=90, ha="center", va="center", color="#222222")
bg.text(38, 1302, "Gene expression", fontsize=14.3, rotation=90, ha="center", va="center", color="#222222")

for y0 in (959, 1278):
    for k, (name, fill) in enumerate([("pre", BLUE_BOX), ("post", YEL_BOX)]):
        top = y0 + k * 19
        bg.add_patch(Rectangle((957, top), 17, 18, fc="#2A2A2A", ec="black", lw=.8))
        bg.add_patch(Rectangle((959.5, top + 2.5), 12, 13, fc=fill, ec="none"))
        bg.plot([959.5, 971.5], [top + 9, top + 9], color="black", lw=1.1)
        bg.text(982, top + 9, name, fontsize=10.5, va="center", color="#222222")


# ---- F, G: circular enrichment plots
def draw_circos(cx, cy, R, ids, genes, select, pbin, ring_colors, wedge_colors, scale_max, tick_vals, ring_w, bar_r, sel_r, gray_r, inner_r, rich_max):
    pad = R + 16
    ax = px_axes(cx - pad, cy - pad, cx + pad, cy + pad)
    ax.set_xlim(-pad, pad)
    ax.set_ylim(-pad, pad)
    ax.axis("off")
    n = len(ids)
    step = 360 / n
    gap = .6
    usable = step - 2 * gap

    def polar_xy(r, deg):
        return r * np.cos(np.radians(deg)), r * np.sin(np.radians(deg))

    ax.add_patch(Circle((0, 0), inner_r - .5, fc="none", ec="#DDDDDD", lw=1.8))
    for i in range(n):
        edge = -i * step
        start = edge - gap
        end = start - usable
        mid = (start + end) / 2
        ax.add_patch(Wedge((0, 0), R, edge - step, edge, width=ring_w, fc=ring_colors[i], ec="none"))
        rot = mid - 90 if np.sin(np.radians(mid)) > 1e-6 else mid + 90
        x, y = polar_xy(R - ring_w / 2, mid)
        ax.text(x, y, ids[i], fontsize=5.1, rotation=rot, ha="center", va="center", rotation_mode="anchor", color="#222222", zorder=6)

        # ticks on the outside of the ring
        segs = []
        for t in np.arange(0, scale_max + 1, 20):
            a = start - t / scale_max * usable
            length = 2.5 if t % 100 == 0 else 1.2
            segs.append([polar_xy(R, a), polar_xy(R + length, a)])
        ax.add_collection(LineCollection(segs, colors="#333333", linewidths=.35))
        for t in tick_vals:
            a = start - t / scale_max * usable
            x, y = polar_xy(R + 9, a)
            rot = a if np.cos(np.radians(a)) >= 0 else a + 180
            ax.text(x, y, str(t), fontsize=3.7, rotation=rot, ha="center", va="center", rotation_mode="anchor", color="#444444")

        # number of genes
        bar_end = start - genes[i] / scale_max * usable
        ax.add_patch(Wedge((0, 0), bar_r[1], bar_end, start, width=bar_r[1] - bar_r[0], fc=P_COLORS[pbin[i]], ec="none"))
        a = (start + bar_end) / 2
        x, y = polar_xy(sum(bar_r) / 2, a)
        ax.text(x, y, str(genes[i]), fontsize=5.5, rotation=a - 90, ha="center", va="center", rotation_mode="anchor", color="#222222")

        # number of selected genes
        sel_end = start - max(select[i] / scale_max * usable, .5)
        ax.add_patch(Wedge((0, 0), sel_r[1], sel_end, start, width=sel_r[1] - sel_r[0], fc="#A050B8", ec="none"))
        a = start - 1.8
        x, y = polar_xy(sum(sel_r) / 2, a)
        ax.text(x, y, str(select[i]), fontsize=5.5, rotation=a - 90, ha="center", va="center", rotation_mode="anchor", color="#222222")

        # rich factor
        ax.add_patch(Wedge((0, 0), gray_r, edge - step, edge, width=gray_r - inner_r, fc="#E8E8E8", ec="none"))
        for band in np.linspace(inner_r, gray_r, 6)[1:-1]:
            ax.add_patch(Wedge((0, 0), band + .3, edge - step, edge, width=.6, fc="#F1F1F1", ec="none"))
        top = inner_r + (gray_r - inner_r) * min(select[i] / genes[i] / rich_max, 1)
        ax.add_patch(Wedge((0, 0), top, edge - step, edge, width=top - inner_r, fc=wedge_colors[i], ec="none"))

    # white spokes between the sectors
    ring_segs, inner_segs = [], []
    for i in range(n):
        a = -i * step
        ring_segs.append([polar_xy(R - ring_w - .5, a), polar_xy(R + .5, a)])
        inner_segs.append([polar_xy(inner_r, a), polar_xy(gray_r + .5, a)])
    ax.add_collection(LineCollection(ring_segs, colors="white", linewidths=2.1, zorder=5))
    ax.add_collection(LineCollection(inner_segs, colors="white", linewidths=1.9, zorder=5))


go_colors = [GROUP_COLORS[g] for g in GO_GROUP]
draw_circos(1251.7, 219.5, 167, GO_IDS, GO_GENES, GO_SELECT, GO_PBIN, go_colors, go_colors, 500, [100, 200, 300, 400],
            17, (133, 148), (114, 127), 108, 54, .167)
draw_circos(1256.3, 1013, 174.7, KEGG_IDS, KEGG_GENES, KEGG_SELECT, KEGG_PBIN, [GOLD] * 10, [TEAL] * 10, 300, [100, 200],
            15, (142, 154), (120, 133), 112, 55, .09)


def center_key(x0, x1, x_text, ys):
    for y, fill, label in zip(ys, ["#ABABAB", "#A65DBE", "#ABABAB"],
                              ["Number of Genes", "Number of Select", "Rich Factor(0\u22121)"]):
        bg.add_patch(Rectangle((x0, y - 2.5), x1 - x0, 5, fc=fill, ec="none", zorder=20))
        bg.text(x_text, y, label, fontsize=4.8, va="center", color="#222222", zorder=20)


def pvalue_key(x_key, x_text, x_title, y_title, ys):
    bg.text(x_title, y_title, "\u2212log10(Pvalue)", fontsize=4.9, fontweight="bold", ha="center", va="center", zorder=20)
    for y, fill, label in zip(ys, P_COLORS, P_LABELS):
        bg.add_patch(Rectangle((x_key - 4, y - 4.6), 8, 9.2, fc="#F1F1F1", ec="none", zorder=20))
        bg.scatter([x_key], [y], s=7, color=fill, linewidths=0, zorder=21)
        bg.text(x_text, y, label, fontsize=4.8, va="center", color="#222222", zorder=21)


bg.set_zorder(10)
bg.patch.set_alpha(0)
center_key(1218, 1236, 1237, [212, 219, 226])
center_key(1221, 1238, 1239, [1008, 1015, 1022])
bg.text(1476, 138, "ONTOLOGY", fontsize=4.9, fontweight="bold", ha="center", va="center")
for y, fill, label in zip([148, 157, 167], GROUP_COLORS, ONTOLOGY):
    bg.add_patch(Rectangle((1443, y - 4.5), 8, 9, fc="#F1F1F1", ec="none"))
    bg.add_patch(Rectangle((1445, y - 2.5), 4, 5, fc=fill, ec="none"))
    bg.text(1453, y, label, fontsize=4.8, va="center", color="#222222")
pvalue_key(1447, 1454, 1458, 181, [191, 200, 209, 218, 227, 236, 245, 254])
pvalue_key(1461, 1467, 1472, 972, [983, 992, 1002, 1011, 1020, 1030, 1039, 1049])


# ---- tables
def draw_table(x0, x_split, x1, y0, head_h, row_h, ids, desc, colors, fontsize):
    bg.add_patch(Rectangle((x0, y0), x1 - x0, head_h, fc="#F07275", ec="white", lw=.8))
    bg.plot([x_split, x_split], [y0, y0 + head_h], color="white", lw=.8)
    kw = dict(fontsize=fontsize, ha="center", va="center", family="Noto Sans", color="#222222")
    head_kw = dict(fontsize=fontsize, ha="center", va="center", family="Liberation Sans", fontweight="bold", color="#1A1A1A")
    bg.text((x0 + x_split) / 2, y0 + head_h / 2, "ID", **head_kw)
    bg.text((x_split + x1) / 2, y0 + head_h / 2, "Description", **head_kw)
    for i, (gid, text, fill) in enumerate(zip(ids, desc, colors)):
        top = y0 + head_h + i * row_h
        bg.add_patch(Rectangle((x0, top), x1 - x0, row_h, fc=fill, ec="white", lw=.8))
        bg.plot([x_split, x_split], [top, top + row_h], color="white", lw=.8)
        bg.text((x0 + x_split) / 2, top + row_h / 2 + 1.3, gid, **kw)
        bg.text((x_split + x1) / 2, top + row_h / 2 + 1.3, text, **kw)


draw_table(1070, 1159, 1514, 421, 23, 23.35, GO_IDS, GO_DESC, go_colors, 9)
draw_table(1066, 1138, 1515, 1225, 23, 22.15, KEGG_IDS, KEGG_DESC, [GOLD] * 10, 8.7)

fig.savefig("out.png", dpi=100)
